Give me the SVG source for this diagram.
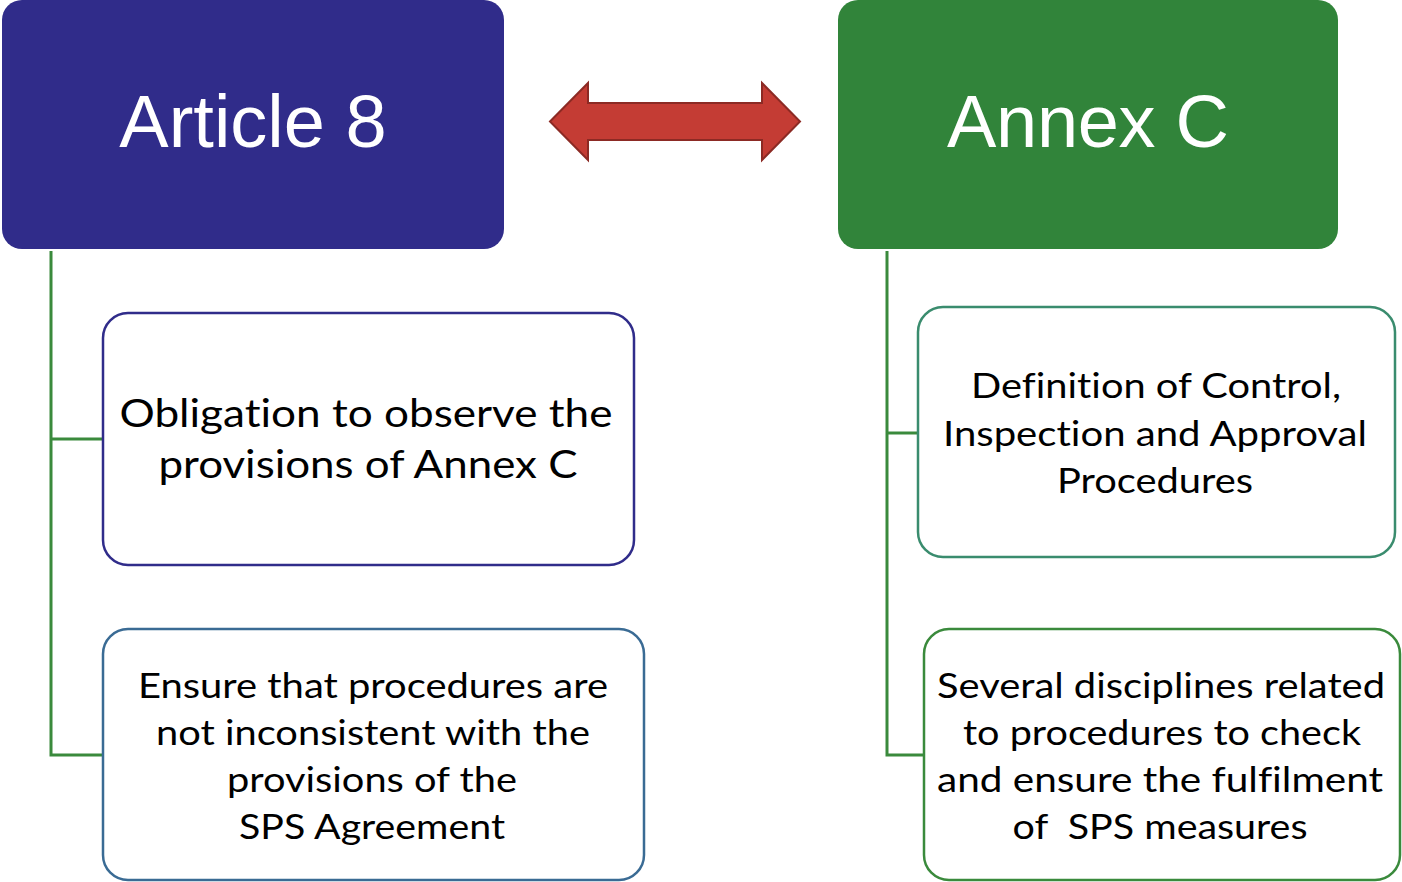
<svg xmlns="http://www.w3.org/2000/svg" width="1402" height="882" viewBox="0 0 1402 882">
<style>
.head{font-family:"Liberation Sans",Arial,sans-serif;font-size:74px;fill:#ffffff;text-anchor:middle}
.body{font-family:Lato,"Open Sans",sans-serif;fill:#000000;text-anchor:middle;font-variant-ligatures:none}
.b1{font-size:38px}
.b2{font-size:35px}
.box{fill:#ffffff;stroke-width:2.5}
.conn{fill:none;stroke:#3A8A3C;stroke-width:3}
</style>
<rect width="1402" height="882" fill="#ffffff"/>
<g id="connectors">
<polyline class="conn" points="51,251 51,755 103,755"/>
<line class="conn" x1="51" y1="439" x2="103" y2="439"/>
<polyline class="conn" points="887,251 887,755 924,755"/>
<line class="conn" x1="887" y1="433" x2="918" y2="433"/>
<path id="double-arrow" d="M550,121.5 L588,83 L588,103 L762,103 L762,83 L800,121.5 L762,160 L762,140 L588,140 L588,160 Z" fill="#C43C34" stroke="#8C2A24" stroke-width="2" stroke-linejoin="miter"/>
</g>
<g id="article8">
<rect x="2" y="0" width="502" height="249" rx="20" fill="#302C8A"/>
<text class="head" x="253" y="147">Article 8</text>
</g>
<g id="annexC">
<rect x="838" y="0" width="500" height="249" rx="20" fill="#31843A"/>
<text class="head" x="1088" y="147" textLength="282" lengthAdjust="spacing">Annex C</text>
</g>
<g id="obligation">
<rect class="box" x="103" y="313" width="531" height="252" rx="25" stroke="#302C8A"/>
<text class="body b1" x="366" y="427" textLength="493" lengthAdjust="spacingAndGlyphs">Obligation to observe the</text>
<text class="body b1" x="368" y="478" textLength="419" lengthAdjust="spacingAndGlyphs">provisions of Annex C</text>
</g>
<g id="ensure">
<rect class="box" x="103" y="629" width="541" height="251" rx="25" stroke="#3A6B94"/>
<text class="body b2" x="373" y="698" textLength="470" lengthAdjust="spacingAndGlyphs">Ensure that procedures are</text>
<text class="body b2" x="373" y="745" textLength="434" lengthAdjust="spacingAndGlyphs">not inconsistent with the</text>
<text class="body b2" x="372" y="792" textLength="290" lengthAdjust="spacingAndGlyphs">provisions of the</text>
<text class="body b2" x="372" y="839" textLength="266" lengthAdjust="spacingAndGlyphs">SPS Agreement</text>
</g>
<g id="definition">
<rect class="box" x="918" y="307" width="477" height="250" rx="25" stroke="#3A8C6E"/>
<text class="body b2" x="1156" y="398" textLength="370" lengthAdjust="spacingAndGlyphs">Definition of Control,</text>
<text class="body b2" x="1155" y="446" textLength="424" lengthAdjust="spacingAndGlyphs">Inspection and Approval</text>
<text class="body b2" x="1155" y="493" textLength="196" lengthAdjust="spacingAndGlyphs">Procedures</text>
</g>
<g id="disciplines">
<rect class="box" x="924" y="629" width="476" height="251" rx="25" stroke="#3A8A3C"/>
<text class="body b2" x="1161" y="698" textLength="448" lengthAdjust="spacingAndGlyphs">Several disciplines related</text>
<text class="body b2" x="1162" y="745" textLength="398" lengthAdjust="spacingAndGlyphs">to procedures to check</text>
<text class="body b2" x="1160" y="792" textLength="446" lengthAdjust="spacingAndGlyphs">and ensure the fulfilment</text>
<text class="body b2" x="1160" y="839" textLength="295" lengthAdjust="spacingAndGlyphs" style="white-space:pre">of  SPS measures</text>
</g>
</svg>
